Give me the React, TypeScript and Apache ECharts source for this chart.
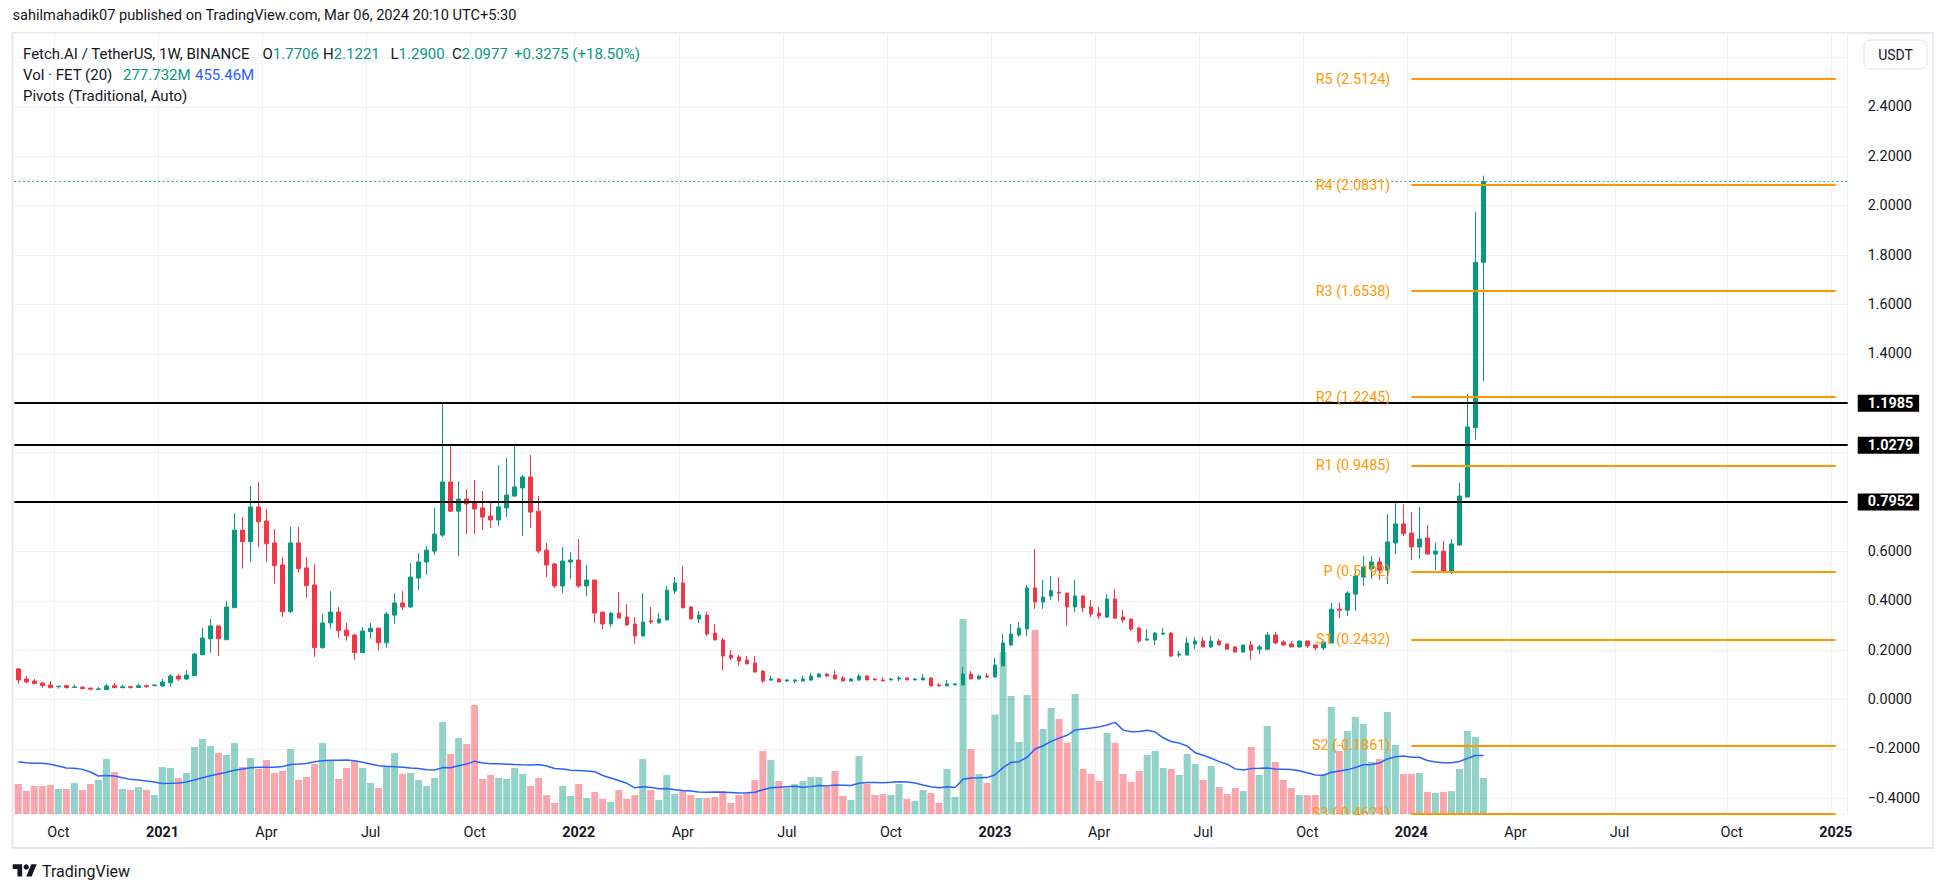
import React, { useEffect, useRef } from "react";
import * as echarts from "echarts";

// ---------- DATA (weekly FET/USDT, Binance, from week of 2020-08-31) ----------
const opens = [
  0.124, 0.083, 0.075, 0.067, 0.059, 0.052, 0.056, 0.049, 0.050, 0.046,
  0.041, 0.040, 0.056, 0.048, 0.052, 0.049, 0.056, 0.056, 0.055, 0.068,
  0.095, 0.083, 0.097, 0.182, 0.246, 0.298, 0.242, 0.372, 0.686, 0.639,
  0.780, 0.723, 0.634, 0.545, 0.356, 0.634, 0.533, 0.464, 0.210, 0.310,
  0.354, 0.281, 0.261, 0.190, 0.275, 0.289, 0.230, 0.342, 0.391, 0.375,
  0.492, 0.557, 0.601, 0.666, 0.881, 0.763, 0.812, 0.796, 0.776, 0.743,
  0.727, 0.776, 0.824, 0.857, 0.901, 0.763, 0.605, 0.549, 0.460, 0.557,
  0.565, 0.460, 0.484, 0.354, 0.306, 0.350, 0.334, 0.306, 0.257, 0.319,
  0.310, 0.322, 0.439, 0.472, 0.375, 0.326, 0.342, 0.269, 0.241, 0.180,
  0.172, 0.160, 0.148, 0.115, 0.079, 0.083, 0.075, 0.075, 0.075, 0.079,
  0.091, 0.103, 0.099, 0.087, 0.075, 0.079, 0.095, 0.083, 0.079, 0.079,
  0.083, 0.087, 0.079, 0.079, 0.087, 0.059, 0.055, 0.059, 0.059, 0.103,
  0.083, 0.095, 0.091, 0.136, 0.221, 0.261, 0.286, 0.452, 0.395, 0.419,
  0.435, 0.431, 0.375, 0.419, 0.375, 0.350, 0.334, 0.407, 0.334, 0.326,
  0.289, 0.241, 0.241, 0.265, 0.269, 0.180, 0.180, 0.225, 0.237, 0.213,
  0.237, 0.225, 0.213, 0.192, 0.221, 0.204, 0.204, 0.261, 0.233, 0.225,
  0.213, 0.237, 0.221, 0.209, 0.229, 0.366, 0.362, 0.427, 0.496, 0.529,
  0.557, 0.524, 0.634, 0.711, 0.674, 0.618, 0.654, 0.589, 0.601, 0.520,
  0.626, 0.820, 1.101, 1.7706,
];
const highs = [
  0.128, 0.095, 0.083, 0.071, 0.075, 0.055, 0.059, 0.060, 0.054, 0.049,
  0.050, 0.064, 0.067, 0.060, 0.055, 0.064, 0.060, 0.060, 0.083, 0.103,
  0.103, 0.119, 0.188, 0.290, 0.326, 0.298, 0.399, 0.755, 0.739, 0.865,
  0.881, 0.772, 0.691, 0.577, 0.699, 0.699, 0.577, 0.549, 0.346, 0.439,
  0.375, 0.310, 0.265, 0.294, 0.310, 0.289, 0.354, 0.431, 0.439, 0.553,
  0.593, 0.622, 0.776, 1.1985, 1.031, 0.885, 0.852, 0.889, 0.844, 0.804,
  0.950, 0.978, 1.0279, 0.909, 0.990, 0.824, 0.634, 0.553, 0.618, 0.597,
  0.650, 0.545, 0.484, 0.354, 0.354, 0.435, 0.387, 0.334, 0.431, 0.375,
  0.350, 0.460, 0.496, 0.541, 0.379, 0.358, 0.354, 0.306, 0.249, 0.200,
  0.180, 0.176, 0.176, 0.119, 0.095, 0.087, 0.083, 0.083, 0.095, 0.107,
  0.107, 0.107, 0.119, 0.095, 0.087, 0.103, 0.099, 0.087, 0.091, 0.087,
  0.095, 0.091, 0.087, 0.103, 0.091, 0.067, 0.079, 0.067, 0.132, 0.115,
  0.099, 0.107, 0.168, 0.265, 0.306, 0.314, 0.464, 0.610, 0.484, 0.500,
  0.496, 0.431, 0.484, 0.423, 0.403, 0.375, 0.427, 0.448, 0.362, 0.326,
  0.294, 0.285, 0.273, 0.289, 0.273, 0.196, 0.253, 0.253, 0.253, 0.257,
  0.245, 0.225, 0.217, 0.221, 0.237, 0.221, 0.273, 0.273, 0.241, 0.237,
  0.237, 0.237, 0.221, 0.233, 0.391, 0.391, 0.439, 0.528, 0.581, 0.581,
  0.577, 0.751, 0.7952, 0.790, 0.759, 0.780, 0.707, 0.634, 0.642, 0.650,
  0.877, 1.237, 1.976, 2.1221,
];
const lows = [
  0.063, 0.067, 0.063, 0.048, 0.046, 0.044, 0.044, 0.048, 0.044, 0.038,
  0.040, 0.040, 0.046, 0.046, 0.045, 0.048, 0.048, 0.053, 0.051, 0.052,
  0.075, 0.079, 0.095, 0.179, 0.190, 0.177, 0.241, 0.372, 0.530, 0.558,
  0.616, 0.558, 0.469, 0.335, 0.350, 0.514, 0.412, 0.173, 0.206, 0.287,
  0.250, 0.238, 0.161, 0.190, 0.246, 0.198, 0.210, 0.307, 0.362, 0.371,
  0.443, 0.504, 0.585, 0.658, 0.759, 0.581, 0.670, 0.670, 0.686, 0.695,
  0.703, 0.739, 0.820, 0.662, 0.695, 0.593, 0.496, 0.452, 0.431, 0.488,
  0.452, 0.419, 0.310, 0.285, 0.294, 0.330, 0.298, 0.225, 0.257, 0.306,
  0.310, 0.322, 0.427, 0.371, 0.326, 0.310, 0.257, 0.241, 0.119, 0.160,
  0.136, 0.144, 0.111, 0.067, 0.075, 0.071, 0.071, 0.067, 0.075, 0.075,
  0.091, 0.091, 0.083, 0.075, 0.075, 0.075, 0.079, 0.079, 0.075, 0.079,
  0.075, 0.079, 0.079, 0.079, 0.055, 0.055, 0.055, 0.059, 0.059, 0.083,
  0.083, 0.091, 0.0899, 0.136, 0.217, 0.253, 0.257, 0.367, 0.367, 0.403,
  0.399, 0.298, 0.354, 0.354, 0.334, 0.326, 0.330, 0.326, 0.310, 0.277,
  0.229, 0.237, 0.221, 0.261, 0.172, 0.172, 0.180, 0.204, 0.213, 0.209,
  0.221, 0.204, 0.192, 0.192, 0.160, 0.184, 0.200, 0.225, 0.217, 0.213,
  0.209, 0.209, 0.200, 0.200, 0.229, 0.330, 0.338, 0.358, 0.460, 0.488,
  0.484, 0.468, 0.589, 0.662, 0.565, 0.569, 0.589, 0.524, 0.520, 0.508,
  0.622, 0.820, 1.052, 1.29,
];
const closes = [
  0.079, 0.071, 0.064, 0.056, 0.048, 0.054, 0.048, 0.051, 0.044, 0.042,
  0.043, 0.055, 0.048, 0.052, 0.048, 0.056, 0.052, 0.059, 0.071, 0.095,
  0.083, 0.099, 0.184, 0.249, 0.298, 0.246, 0.375, 0.686, 0.639, 0.780,
  0.720, 0.631, 0.542, 0.356, 0.634, 0.530, 0.461, 0.210, 0.310, 0.354,
  0.279, 0.258, 0.190, 0.277, 0.289, 0.230, 0.346, 0.391, 0.375, 0.496,
  0.557, 0.605, 0.670, 0.881, 0.763, 0.812, 0.792, 0.772, 0.739, 0.727,
  0.780, 0.828, 0.861, 0.901, 0.759, 0.601, 0.545, 0.460, 0.561, 0.565,
  0.460, 0.484, 0.350, 0.306, 0.350, 0.330, 0.302, 0.257, 0.314, 0.314,
  0.326, 0.443, 0.472, 0.371, 0.326, 0.342, 0.265, 0.241, 0.176, 0.168,
  0.156, 0.144, 0.111, 0.075, 0.083, 0.071, 0.079, 0.079, 0.083, 0.095,
  0.103, 0.095, 0.083, 0.075, 0.083, 0.095, 0.079, 0.079, 0.075, 0.083,
  0.087, 0.079, 0.083, 0.087, 0.055, 0.055, 0.063, 0.063, 0.103, 0.083,
  0.095, 0.091, 0.140, 0.229, 0.265, 0.289, 0.452, 0.395, 0.415, 0.441,
  0.431, 0.375, 0.419, 0.371, 0.346, 0.338, 0.407, 0.330, 0.322, 0.285,
  0.237, 0.245, 0.269, 0.269, 0.176, 0.184, 0.229, 0.237, 0.213, 0.237,
  0.221, 0.204, 0.192, 0.221, 0.200, 0.213, 0.261, 0.229, 0.221, 0.213,
  0.237, 0.217, 0.209, 0.233, 0.366, 0.362, 0.431, 0.500, 0.537, 0.557,
  0.524, 0.638, 0.711, 0.6725, 0.618, 0.650, 0.589, 0.601, 0.520, 0.630,
  0.824, 1.104, 1.7706, 2.0977,
];
// weekly volume, millions of FET
const volumes = [
  231, 177, 216, 216, 224, 193, 193, 239, 185, 231,
  262, 424, 324, 193, 185, 208, 185, 146, 362, 355,
  278, 316, 517, 578, 524, 470, 455, 547, 362, 432,
  347, 416, 316, 332, 501, 262, 285, 386, 547, 416,
  270, 355, 409, 355, 239, 200, 370, 470, 308, 316,
  262, 216, 278, 709, 463, 586, 540, 840, 270, 301,
  278, 270, 355, 308, 216, 278, 146, 85, 216, 139,
  231, 123, 170, 116, 93, 185, 116, 146, 424, 185,
  108, 301, 154, 177, 146, 123, 123, 131, 177, 85,
  146, 162, 262, 486, 416, 254, 200, 231, 254, 285,
  285, 208, 332, 139, 108, 447, 231, 146, 154, 146,
  231, 116, 100, 185, 162, 85, 347, 131, 1503, 501,
  308, 239, 766, 1247, 910, 555, 918, 1419, 655, 817,
  732, 550, 925, 347, 308, 254, 625, 550, 308, 247,
  332, 455, 486, 355, 347, 301, 463, 386, 262, 370,
  208, 154, 200, 177, 517, 301, 678, 401, 262, 200,
  146, 146, 146, 301, 825, 486, 640, 748, 694, 401,
  424, 786, 532, 308, 308, 316, 170, 162, 170, 177,
  347, 640, 594, 277.732,
];
// Vol SMA(20) as drawn for the first 19 visible weeks (earlier history is off-screen)
const volMaEarly = [403, 396, 391, 391, 383, 370, 355, 352, 344, 324, 293, 296, 293, 280, 267, 262, 254, 247, 236];

const pivotNames = ["R5", "R4", "R3", "R2", "R1", "P", "S1", "S2", "S3"];
const pivotValues = [2.5124, 2.0831, 1.6538, 1.2245, 0.9485, 0.5192, 0.2432, -0.1861, -0.4621];
const levelValues = [1.1985, 1.0279, 0.7952];
const lastPrice = 2.0977;
// price-scale tick labels hidden behind the USDT button and the level tags
const hiddenTicks = [2.6, 1.2, 1.0, 0.8];

const FIRST_WEEK = Date.UTC(2020, 7, 31);
const TOTAL_WEEKS = 229;
const PIVOT_FROM = "2024-01-01";
const PIVOT_TO = "2025-01-06";
const quarterNames: Record<number, string> = { 3: "Apr", 6: "Jul", 9: "Oct" };

// ---------- STYLE ----------
const FONT = "Roboto, 'Noto Sans', sans-serif";
const TEXT = "#131722";
const UP = "#089981";
const DOWN = "#F23645";
const UP_VOL = "rgba(8,153,129,0.44)";
const DOWN_VOL = "rgba(242,54,69,0.44)";
const PIVOT = "#FF9800";

export default function App() {
  const ref = useRef<HTMLDivElement>(null);

  useEffect(() => {
    if (!ref.current) return;
    const chart = echarts.init(ref.current, null, { renderer: "svg" });

    const dates: Date[] = [];
    for (let i = 0; i < TOTAL_WEEKS; i++) dates.push(new Date(FIRST_WEEK + i * 7 * 86400000));
    const cats = dates.map((d) => d.toISOString().slice(0, 10));
    const isTick = (i: number) => {
      const d = dates[i];
      return !!d && d.getUTCDate() <= 7 && d.getUTCMonth() % 3 === 0;
    };
    const tickLabel = (i: number) => {
      const d = dates[i];
      if (!d) return "";
      const m = d.getUTCMonth();
      if (m === 0) return "{y|" + d.getUTCFullYear() + "}";
      return quarterNames[m] || "";
    };

    const candleData = opens.map((o, i) => [o, closes[i], lows[i], highs[i]]);
    const volData = volumes.map((v, i) => ({
      value: v,
      itemStyle: { color: closes[i] >= opens[i] ? UP_VOL : DOWN_VOL },
    }));
    const volMa = volumes.map((_, i) => {
      if (i < 19) return volMaEarly[i];
      let s = 0;
      for (let k = i - 19; k <= i; k++) s += volumes[k];
      return +(s / 20).toFixed(2);
    });

    const fmtPrice = (v: number) => {
      const k = Math.round(v / 0.2);
      if (Math.abs(v - k * 0.2) > 1e-6) return "";
      if (hiddenTicks.some((h) => Math.abs(h - k * 0.2) < 1e-6)) return "";
      const s = Math.abs(k * 0.2).toFixed(4);
      return k < 0 ? "\u2212" + s : s;
    };

    const gridBox = { left: 14.3, right: 98.3, top: 33, bottom: 79 };

    const option: any = {
      animation: false,
      backgroundColor: "#ffffff",
      textStyle: { fontFamily: FONT },
      grid: [
        { ...gridBox, outerBoundsMode: "none" },
        { ...gridBox, outerBoundsMode: "none" },
      ],
      xAxis: [
        {
          type: "category",
          gridIndex: 0,
          data: cats,
          boundaryGap: true,
          axisLine: { show: false },
          axisTick: { show: false },
          axisLabel: {
            interval: (i: number) => isTick(i),
            formatter: (_v: string, i: number) => tickLabel(i),
            color: TEXT,
            fontSize: 14.4,
            fontFamily: FONT,
            margin: 11,
            rich: { y: { fontWeight: "bold", fontSize: 14.4, color: TEXT, fontFamily: FONT } },
          },
          splitLine: {
            show: true,
            interval: (i: number) => isTick(i),
            lineStyle: { color: "#f0f1f3", width: 1 },
          },
        },
        { type: "category", gridIndex: 1, data: cats, boundaryGap: true, show: false },
      ],
      yAxis: [
        {
          type: "value",
          gridIndex: 0,
          position: "right",
          min: -0.4637,
          max: 2.6995,
          splitNumber: 16,
          axisLine: { show: false },
          axisTick: { show: false },
          axisLabel: {
            formatter: fmtPrice,
            color: TEXT,
            fontSize: 14.4,
            fontFamily: FONT,
            align: "left",
            margin: 20,
            showMinLabel: false,
            showMaxLabel: false,
          },
          splitLine: { show: true, lineStyle: { color: "#f0f1f3", width: 1 } },
        },
        { type: "value", gridIndex: 1, min: 0, max: 6021, show: false },
      ],
      series: [
        {
          name: "pivots",
          type: "line",
          xAxisIndex: 0,
          yAxisIndex: 0,
          data: [],
          z: 1,
          silent: true,
          markLine: {
            silent: true,
            symbol: ["none", "none"],
            lineStyle: { color: PIVOT, width: 2, type: "solid" },
            label: { position: "start", distance: 21, color: PIVOT, fontSize: 14.4, fontFamily: FONT },
            data: pivotNames.map((n, k) => [
              { xAxis: PIVOT_FROM, yAxis: pivotValues[k], label: { formatter: `${n} (${pivotValues[k]})` } },
              { xAxis: PIVOT_TO, yAxis: pivotValues[k] },
            ]),
          },
        },
        {
          name: "volume",
          type: "bar",
          xAxisIndex: 1,
          yAxisIndex: 1,
          data: volData,
          barWidth: 7,
          z: 2,
          silent: true,
        },
        {
          name: "volMA",
          type: "line",
          xAxisIndex: 1,
          yAxisIndex: 1,
          data: volMa,
          symbol: "none",
          showSymbol: false,
          lineStyle: { color: "#2962FF", width: 1.5 },
          z: 3,
          silent: true,
        },
        {
          name: "FETUSDT",
          type: "candlestick",
          xAxisIndex: 0,
          yAxisIndex: 0,
          data: candleData,
          barWidth: 4,
          z: 4,
          silent: true,
          itemStyle: {
            color: UP,
            color0: DOWN,
            borderColor: UP,
            borderColor0: DOWN,
            borderWidth: 1,
          },
        },
        {
          name: "levels",
          type: "line",
          xAxisIndex: 0,
          yAxisIndex: 0,
          data: [],
          z: 6,
          silent: true,
          markLine: {
            silent: true,
            symbol: ["none", "none"],
            lineStyle: { color: "#000000", width: 2, type: "solid" },
            label: {
              position: "end",
              distance: 10,
              backgroundColor: "#000000",
              color: "#ffffff",
              fontWeight: "bold",
              fontSize: 14.4,
              fontFamily: FONT,
              lineHeight: 15,
              padding: [1, 6, 1, 10],
            },
            data: [
              ...levelValues.map((v) => ({ yAxis: v, label: { formatter: v.toFixed(4) } })),
              {
                yAxis: lastPrice,
                lineStyle: { color: UP, width: 1, type: [1.5, 3] },
                label: { show: false },
              },
            ],
          },
        },
      ],
      graphic: [
        // frame
        {
          type: "rect",
          z: 0,
          silent: true,
          shape: { x: 12.5, y: 33, width: 1920.5, height: 815 },
          style: { fill: "none", stroke: "#e6e8ee", lineWidth: 2 },
        },
        // cover for the part of the S3 label below the pane
        {
          type: "rect",
          z: 40,
          silent: true,
          shape: { x: 1290, y: 815, width: 115, height: 8.5 },
          style: { fill: "#ffffff" },
        },
        // top attribution line
        {
          type: "text",
          z: 50,
          x: 12.5,
          y: 15,
          style: {
            text: "sahilmahadik07 published on TradingView.com, Mar 06, 2024 20:10 UTC+5:30",
            fill: TEXT,
            font: `14.6px ${FONT}`,
            verticalAlign: "middle",
          },
        },
        // legend line: symbol
        {
          type: "text",
          z: 50,
          x: 23,
          y: 53.5,
          style: {
            text: "Fetch.AI / TetherUS, 1W, BINANCE",
            fill: TEXT,
            font: `15px ${FONT}`,
            verticalAlign: "middle",
          },
        },
        ...[
          ["O", "1.7706", 262.5],
          ["H", "2.1221", 323],
          ["L", "1.2900", 390.5],
          ["C", "2.0977", 452],
          ["", "+0.3275 (+18.50%)", 514],
        ].map(([k, v, x]) => ({
          type: "text",
          z: 50,
          x: x as number,
          y: 53.5,
          style: {
            text: (k ? `{k|${k}}` : "") + `{v|${v}}`,
            font: `15px ${FONT}`,
            verticalAlign: "middle",
            rich: {
              k: { fill: TEXT, font: `15px ${FONT}` },
              v: { fill: UP, font: `15px ${FONT}` },
            },
          },
        })),
        {
          type: "text",
          z: 50,
          x: 23,
          y: 75,
          style: { text: "Vol \u00b7 FET (20)", fill: TEXT, font: `15px ${FONT}`, verticalAlign: "middle" },
        },
        {
          type: "text",
          z: 50,
          x: 123,
          y: 75,
          style: { text: "277.732M", fill: UP, font: `15px ${FONT}`, verticalAlign: "middle" },
        },
        {
          type: "text",
          z: 50,
          x: 195,
          y: 75,
          style: { text: "455.46M", fill: "#2962FF", font: `15px ${FONT}`, verticalAlign: "middle" },
        },
        {
          type: "text",
          z: 50,
          x: 23,
          y: 96,
          style: { text: "Pivots (Traditional, Auto)", fill: TEXT, font: `15px ${FONT}`, verticalAlign: "middle" },
        },
        // USDT currency button on the price scale
        {
          type: "rect",
          z: 100,
          silent: true,
          shape: { x: 1864, y: 40, width: 63, height: 29, r: 6 },
          style: { fill: "#ffffff", stroke: "#e0e3eb", lineWidth: 1 },
        },
        {
          type: "text",
          z: 101,
          x: 1895.5,
          y: 54.5,
          style: { text: "USDT", fill: TEXT, font: `14px ${FONT}`, align: "center", verticalAlign: "middle" },
        },
        // TradingView footer logo
        {
          type: "group",
          z: 50,
          x: 12.7,
          y: 861.6,
          scaleX: 0.676,
          scaleY: 0.676,
          children: [
            { type: "polygon", shape: { points: [[14, 22], [7, 22], [7, 11], [0, 11], [0, 4], [14, 4]] }, style: { fill: TEXT } },
            { type: "polygon", shape: { points: [[28, 22], [20, 22], [27.5, 4], [35.5, 4]] }, style: { fill: TEXT } },
            { type: "circle", shape: { cx: 20, cy: 8, r: 4 }, style: { fill: TEXT } },
          ],
        },
        {
          type: "text",
          z: 50,
          x: 42,
          y: 871,
          style: { text: "TradingView", fill: TEXT, font: `16px ${FONT}`, verticalAlign: "middle" },
        },
      ],
    };

    chart.setOption(option);
    return () => chart.dispose();
  }, []);

  return (
    <div
      ref={ref}
      style={{ position: "fixed", left: 0, top: 0, width: 1946, height: 893, background: "#ffffff" }}
    />
  );
}
